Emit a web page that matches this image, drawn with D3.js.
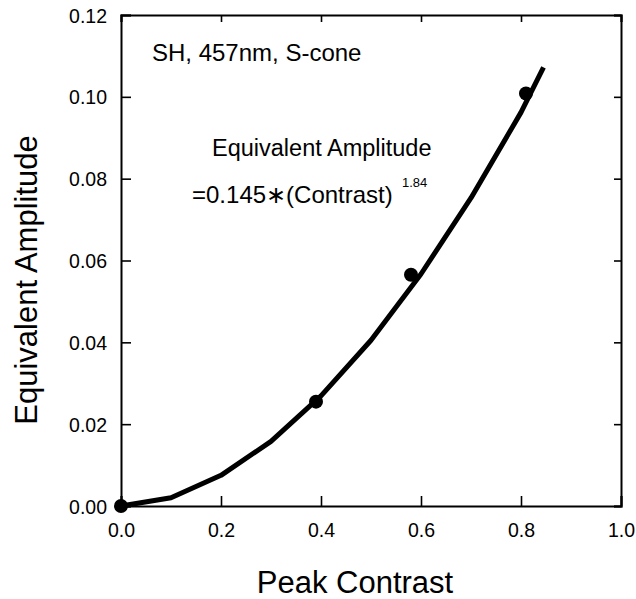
<!DOCTYPE html>
<html><head><meta charset="utf-8">
<script src="https://cdn.jsdelivr.net/npm/d3@7"></script>
<style>body{margin:0;background:#fff}svg{display:block}text{font-family:"Liberation Sans",Arial,Helvetica,sans-serif;fill:#000}</style>
</head><body>
<script>
// Data
const pointX = [0.0, 0.39, 0.58, 0.81];
const pointY = [0.0, 0.0255, 0.0565, 0.1008];
const curveX = [0.0, 0.1, 0.2, 0.3, 0.4, 0.5, 0.6, 0.7, 0.8, 0.845];
const curveY = [0.0, 0.0020, 0.0075, 0.0158, 0.0269, 0.0405, 0.0567, 0.0753, 0.0962, 0.1072];
const xTicks = [0.0, 0.2, 0.4, 0.6, 0.8, 1.0];
const yTicks = [0.00, 0.02, 0.04, 0.06, 0.08, 0.10, 0.12];
const xTitle = "Peak Contrast";
const yTitle = "Equivalent Amplitude";
const note1 = "SH, 457nm, S-cone";
const note2 = "Equivalent Amplitude";
const note3 = "=0.145\u2217(Contrast)";
const note3sup = "1.84";

const W = 636, H = 599;
const L = 121, R = 621, T = 15, B = 506;
const svg = d3.select("body").append("svg").attr("width", W).attr("height", H);
const x = d3.scaleLinear().domain([0, 1]).range([L, R]);
const y = d3.scaleLinear().domain([0, 0.12]).range([B, T]);

// axes
const gBottom = svg.append("g").attr("transform", `translate(0,${B})`)
  .call(d3.axisBottom(x).tickValues(xTicks).tickSize(-10).tickPadding(17).tickFormat(d3.format(".1f")));
const gLeft = svg.append("g").attr("transform", `translate(${L},0)`)
  .call(d3.axisLeft(y).tickValues(yTicks).tickSize(-10).tickPadding(14).tickFormat(d3.format(".2f")));
const gTop = svg.append("g").attr("transform", `translate(0,${T})`)
  .call(d3.axisTop(x).tickValues(xTicks).tickSize(-7).tickFormat(""));
const gRight = svg.append("g").attr("transform", `translate(${R},0)`)
  .call(d3.axisRight(y).tickValues(yTicks).tickSize(-7).tickFormat(""));
[gBottom, gLeft, gTop, gRight].forEach(g => {
  g.select(".domain").attr("stroke", "#000").attr("stroke-width", 2);
  g.selectAll(".tick line").attr("stroke", "#000").attr("stroke-width", 1.6);
  g.selectAll("text").style("font-size", "19.5px").attr("fill", "#000");
});
gLeft.selectAll("text").attr("dy", "0.36em");

// curve
const curve = curveX.map((v, i) => [v, curveY[i]]);
svg.append("path").datum(curve)
  .attr("d", d3.line().x(d => x(d[0])).y(d => y(d[1])))
  .attr("fill", "none").attr("stroke", "#000").attr("stroke-width", 5)
  .attr("stroke-linejoin", "round").attr("stroke-linecap", "butt");

// points
svg.selectAll("circle.pt").data(pointX.map((v, i) => [v, pointY[i]])).enter()
  .append("circle").attr("class", "pt")
  .attr("cx", d => x(d[0])).attr("cy", d => y(d[1])).attr("r", 7).attr("fill", "#000");

// annotations
svg.append("text").attr("x", 152).attr("y", 61).style("font-size", "24px").text(note1);
svg.append("text").attr("x", 212).attr("y", 156).style("font-size", "23.5px").text(note2);
svg.append("text").attr("x", 192).attr("y", 203).style("font-size", "24px").text(note3);
svg.append("text").attr("x", 402).attr("y", 187).style("font-size", "13px").text(note3sup);

// titles
svg.append("text").attr("x", 355).attr("y", 593).attr("text-anchor", "middle").style("font-size", "31px").text(xTitle);
svg.append("text").attr("transform", "translate(37,280) rotate(-90)").attr("text-anchor", "middle").style("font-size", "31px").text(yTitle);
</script>
</body></html>
